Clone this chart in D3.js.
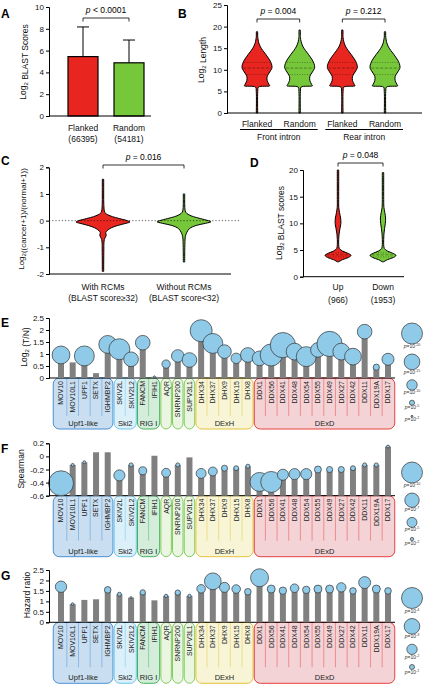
<!DOCTYPE html>
<html>
<head>
<meta charset="utf-8">
<script src="https://cdn.jsdelivr.net/npm/d3@7"></script>
<style>
  body { margin: 0; background: #fff; }
  text { font-family: "Liberation Sans", Arial, sans-serif; }
</style>
</head>
<body>
<div id="chart"></div>
<script>
// ---------- data ----------
// A
const aCats = ["Flanked", "Random"]
const aCounts = ["(66395)", "(54181)"]
const aMeans = [5.45, 4.88]
const aSD = [2.72, 2.09]

// B
const bLabels = ["Flanked", "Random", "Flanked", "Random"]
const bGroups = ["Front intron", "Rear intron"]
const bTips = [18.8, 19.2, 19.2, 18.8]
const bQuart = [8.9, 10.4, 11.7]
const bVals = [0, 5, 6.0, 6.3, 6.6, 7.5, 8.5, 9.5, 10.5, 11.5, 12.5, 13.5, 14.5, 15.5, 16.5, 17.5]
const bWid = [0.04, 0.05, 0.1, 0.85, 0.8, 0.68, 0.68, 0.85, 1.0, 0.95, 0.8, 0.6, 0.38, 0.2, 0.1, 0.05]

// C
const cLabels = ["With RCMs", "Without RCMs"]
const cSub = ["(BLAST score\u226532)", "(BLAST score<32)"]
const cRedVals = [-1.9, -1.2, -0.7, -0.55, -0.45, -0.3, -0.18, -0.1, -0.05, 0, 0.08, 0.15, 0.22, 0.3, 0.6, 1.0, 1.55]
const cRedWid = [0.02, 0.03, 0.05, 0.12, 0.1, 0.25, 0.55, 0.85, 1.0, 0.9, 0.6, 0.35, 0.18, 0.07, 0.03, 0.025, 0.02]
const cGreenVals = [-1.55, -1.0, -0.6, -0.45, -0.3, -0.18, -0.1, -0.04, 0, 0.08, 0.15, 0.22, 0.32, 0.5, 0.8, 1.0]
const cGreenWid = [0.02, 0.03, 0.05, 0.1, 0.2, 0.45, 0.8, 1.0, 0.9, 0.6, 0.35, 0.18, 0.06, 0.03, 0.02, 0.02]

// D
const dLabels = ["Up", "Down"]
const dCounts = ["(966)", "(1953)"]
const dRedVals = [2.8, 3.2, 3.6, 4.0, 4.4, 4.8, 5.3, 6, 7, 8, 9, 10, 11, 12, 13, 15, 17, 20]
const dRedWid = [0.05, 0.35, 0.8, 1.0, 0.75, 0.35, 0.1, 0.05, 0.05, 0.08, 0.15, 0.22, 0.2, 0.12, 0.06, 0.03, 0.02, 0.01]
const dGreenVals = [2.8, 3.2, 3.6, 4.0, 4.4, 4.8, 5.3, 6, 7, 8, 9, 10, 11, 12, 13, 15, 17, 19.5]
const dGreenWid = [0.05, 0.35, 0.8, 1.0, 0.75, 0.35, 0.1, 0.05, 0.05, 0.07, 0.12, 0.18, 0.2, 0.14, 0.07, 0.03, 0.02, 0.01]
const dQuart = [3.7, 4.1, 4.5]

// E, F, G
const genes = ["MOV10", "MOV10L1", "UPF1", "SETX", "IGHMBP2", "SKIV2L", "SKIV2L2", "FANCM", "IFIH1",
  "AQR", "SNRNP200", "SUPV3L1", "DHX34", "DHX37", "DHX9", "DHX15", "DHX8",
  "DDX1", "DDX56", "DDX41", "DDX48", "DDX54", "DDX55", "DDX49", "DDX27", "DDX42", "DDX11", "DDX19A", "DDX17"]
const groupNames = ["Upf1-like", "Ski2", "RIG I", "", "", "", "DExH", "DExD"]
const groupStart = [0, 5, 7, 9, 10, 11, 12, 17]
const groupEnd = [4, 6, 8, 9, 10, 11, 16, 28]

const eLog2TN = [0.96, 0.65, 0.92, 0.2, 1.4, 1.2, 0.78, 1.47, 0.05, 0.58, 0.92, 0.75, 1.97, 1.44, 1.1, 0.82, 0.96,
  0.82, 0.96, 1.37, 1.1, 0.89, 1.17, 1.42, 1.1, 0.89, 1.93, 0.45, 0.78]
const eNegLogP = [17, null, 19, null, 17, 20, 14, 14, 2, 8, 12, 14, 21, 19, 13, 10, 14,
  14, 21, 24, 16, 19, 14, 24, 16, 16, 14, 6, 11.5]
const eLegend = [20, 15, 10, 5, 2]

const fSpearman = [-0.41, -0.13, -0.09, 0.063, 0.063, -0.29, -0.13, -0.22, 0.01, -0.25, -0.13, -0.015, -0.26, -0.23, -0.18, -0.18, -0.15,
  -0.39, -0.39, -0.28, -0.27, -0.27, -0.2, -0.2, -0.2, -0.18, -0.13, -0.13, 0.15]
const fNegLogP = [11.8, 1.8, 1.8, null, null, 5.5, 2.3, 4.1, null, 4.5, 2.3, null, 5, 4.5, 3.2, 2.7, 2.3,
  9.1, 10, 5.5, 5.5, 5.5, 3.6, 3.2, 3.2, 2.7, 2.3, 2.3, 1.8]
const fLegend = [10, 7, 5, 2]

const gHazard = [1.70, 0.87, 1.07, 1.1, 1.55, 1.34, 1.18, 1.43, 1.05, 1.26, 1.42, 1.26, 1.6, 1.96, 1.67, 1.59, 1.46,
  2.13, 1.59, 1.51, 1.63, 1.55, 1.59, 1.59, 1.67, 1.5, 1.9, 1.59, 1.5]
const gNegLogP = [2.2, 0.55, null, null, 1.3, 0.8, 0.45, 1.07, null, 0.7, 1.07, 0.7, 1.67, 3.2, 1.94, 1.67, 1.3,
  3.43, 1.56, 1.45, 1.67, 1.45, 1.56, 1.56, 1.82, 1.3, 2.3, 1.56, 1.3]
const gLegend = [4, 3, 2, 1]

// ---------- styles ----------
const RED = "#e8261f", GREEN = "#77c73b", GRAY = "#808080", BUBBLE = "#8fcae8"
const groupFill = ["#c9dff1", "#dcf0fa", "#d4ecda", "#eaf6e2", "#eaf6e2", "#eaf6e2", "#f7f5d6", "#f4d3d6"]
const groupStroke = ["#4a8fd3", "#6cc5ee", "#45b35a", "#82cc5c", "#82cc5c", "#82cc5c", "#e5c23c", "#e6403f"]

const W = 423, H = 685
const svg = d3.select("#chart").append("svg").attr("width", W).attr("height", H)

function yAxis(scale, x, ticks, fmt) {
  const g = svg.append("g").attr("transform", `translate(${x},0)`)
    .call(d3.axisLeft(scale).tickValues(ticks).tickSize(3).tickPadding(2).tickFormat(fmt || (d => String(d))))
  g.selectAll("text").attr("font-size", 8).attr("fill", "#111")
  g.selectAll("line,path").attr("stroke", "#000")
  return g
}

function hLine(x1, x2, y) {
  svg.append("line").attr("x1", x1).attr("x2", x2).attr("y1", y).attr("y2", y)
    .attr("stroke", "#000").attr("stroke-width", 1)
}

function letter(t, x, y) {
  svg.append("text").attr("x", x).attr("y", y).text(t)
    .attr("font-size", 12).attr("font-weight", "bold")
}

// parts: plain strings, or [string] for a subscript
function yTitle(parts, x, y, size) {
  const t = svg.append("text").attr("transform", `translate(${x},${y}) rotate(-90)`)
    .attr("text-anchor", "middle").attr("font-size", size || 8.5).attr("fill", "#111")
    .attr("xml:space", "preserve")
  parts.forEach(p => {
    if (Array.isArray(p)) {
      t.append("tspan").attr("dy", 2).attr("font-size", 6).text(p[0])
      t.append("tspan").attr("dy", -2).text("")
    } else t.append("tspan").text(p)
  })
}

function bracket(x1, x2, y, label) {
  svg.append("path").attr("d", `M${x1},${y + 3.5}V${y}H${x2}V${y + 3.5}`)
    .attr("fill", "none").attr("stroke", "#000").attr("stroke-width", 0.8)
  const t = svg.append("text").attr("x", (x1 + x2) / 2).attr("y", y - 5)
    .attr("text-anchor", "middle").attr("font-size", 8.5).attr("xml:space", "preserve")
  t.append("tspan").attr("font-style", "italic").text("p")
  t.append("tspan").text(label)
}

function label(x, y, s, size) {
  svg.append("text").attr("x", x).attr("y", y).attr("text-anchor", "middle")
    .attr("font-size", size || 8.5).attr("fill", "#111").text(s)
}

function violin(vals, wid, cx, half, y, color) {
  const pts = vals.map((v, i) => ({ v: v, w: Math.max(0.7, wid[i] * half) }))
  const area = d3.area().curve(d3.curveCatmullRom.alpha(0.5))
    .y(d => y(d.v)).x0(d => cx - d.w).x1(d => cx + d.w)
  svg.append("path").attr("d", area(pts)).attr("fill", color)
    .attr("stroke", "#000").attr("stroke-width", 1)
}

function quartiles(vals, wid, qs, cx, half, y) {
  const wAt = d3.scaleLinear().domain(vals).range(wid)
  qs.forEach((q, i) => {
    const w = wAt(q) * half - 1
    svg.append("line").attr("x1", cx - w).attr("x2", cx + w).attr("y1", y(q)).attr("y2", y(q))
      .attr("stroke", "#000").attr("stroke-opacity", 0.45).attr("stroke-width", 0.8)
      .attr("stroke-dasharray", i === 1 ? "3,1.5" : "1,1.5")
  })
}

// ---------- A ----------
letter("A", 1, 18)
const yA = d3.scaleLinear().domain([0, 10]).range([116, 7])
const xA = d3.scalePoint().domain(aCats).range([83, 129])
const barW = 30
aCats.forEach((c, i) => {
  const cx = xA(c)
  svg.append("line").attr("x1", cx).attr("x2", cx).attr("y1", yA(aMeans[i])).attr("y2", yA(aMeans[i] + aSD[i]))
    .attr("stroke", "#000").attr("stroke-width", 1)
  svg.append("line").attr("x1", cx - 6).attr("x2", cx + 6).attr("y1", yA(aMeans[i] + aSD[i])).attr("y2", yA(aMeans[i] + aSD[i]))
    .attr("stroke", "#000").attr("stroke-width", 1)
  svg.append("rect").attr("x", cx - barW / 2).attr("y", yA(aMeans[i])).attr("width", barW)
    .attr("height", yA(0) - yA(aMeans[i])).attr("fill", i === 0 ? RED : GREEN)
    .attr("stroke", "#000").attr("stroke-width", 1.2)
  label(cx, 131, c)
  label(cx, 142, aCounts[i])
})
yAxis(yA, 49, [0, 2, 4, 6, 8, 10])
hLine(49, 151, yA(0))
yTitle(["Log", ["2"], " BLAST Scores"], 26, 62)
bracket(xA(aCats[0]), xA(aCats[1]), 18, " < 0.0001")

// ---------- B ----------
letter("B", 178, 18)
const yB = d3.scaleLinear().domain([0, 25]).range([113, 5])
const xB = d3.scalePoint().domain(d3.range(4)).range([257, 385])
bLabels.forEach((c, i) => {
  const vals = bVals.concat([bTips[i]])
  const wid = bWid.concat([0.02])
  violin(vals, wid, xB(i), 15, yB, i % 2 === 0 ? RED : GREEN)
  quartiles(vals, wid, bQuart, xB(i), 15, yB)
  label(xB(i), 127, c)
})
bGroups.forEach((gname, j) => {
  const x1 = xB(j * 2) - 17, x2 = xB(j * 2 + 1) + 18
  hLine(x1, x2, 129.5)
  label((x1 + x2) / 2, 140, gname)
  bracket(xB(j * 2), xB(j * 2 + 1), 19, j === 0 ? " = 0.004" : " = 0.212")
})
yAxis(yB, 227, [0, 5, 10, 15, 20, 25])
hLine(227, 422, yB(0))
yTitle(["Log", ["2"], " Length"], 204, 60)

// ---------- C ----------
letter("C", 1, 165)
const yC = d3.scaleLinear().domain([-2, 2]).range([274, 167.3])
const xC = d3.scalePoint().domain(cLabels).range([103, 184])
violin(cRedVals, cRedWid, xC(cLabels[0]), 27, yC, RED)
violin(cGreenVals, cGreenWid, xC(cLabels[1]), 27, yC, GREEN)
svg.append("line").attr("x1", 49).attr("x2", 240).attr("y1", yC(0)).attr("y2", yC(0))
  .attr("stroke", "#000").attr("stroke-opacity", 0.7).attr("stroke-width", 0.9).attr("stroke-dasharray", "1.2,2")
cLabels.forEach((c, i) => {
  label(xC(c), 290, c)
  label(xC(c), 300.5, cSub[i])
})
yAxis(yC, 49, [-2, -1, 0, 1, 2])
hLine(49, 231, yC(-2))
yTitle(["Log", ["2"], "((cancer+1)/(normal+1))"], 24, 219, 8)
bracket(xC(cLabels[0]), xC(cLabels[1]), 165, " = 0.016")

// ---------- D ----------
letter("D", 250, 167)
const yD = d3.scaleLinear().domain([0, 20]).range([276.7, 170])
const xD = d3.scalePoint().domain(dLabels).range([338, 383])
violin(dRedVals, dRedWid, xD(dLabels[0]), 13, yD, RED)
violin(dGreenVals, dGreenWid, xD(dLabels[1]), 13, yD, GREEN)
quartiles(dRedVals, dRedWid, dQuart, xD(dLabels[0]), 13, yD)
quartiles(dGreenVals, dGreenWid, dQuart, xD(dLabels[1]), 13, yD)
dLabels.forEach((c, i) => {
  label(xD(c), 290, c)
  label(xD(c), 303, dCounts[i])
})
yAxis(yD, 303, [0, 5, 10, 15, 20])
hLine(303, 404, yD(0))
yTitle(["Log", ["2"], " BLAST scores"], 282, 223)
bracket(xD(dLabels[0]), xD(dLabels[1]), 163, " = 0.048")

// ---------- E, F, G ----------
const xG = d3.scalePoint().domain(genes).range([61, 388])
const step = xG.step()

function geneChart(cfg) {
  const y = cfg.y, base = cfg.base, top = y(base)
  // group boxes
  groupStart.forEach((s, i) => {
    let x1 = xG(genes[s]) - step / 2 + 0.6
    let x2 = xG(genes[groupEnd[i]]) + step / 2 - 0.6
    if (i === 0) x1 -= 2.5
    if (i === groupStart.length - 1) x2 += 1.5
    svg.append("rect").attr("x", x1).attr("y", top).attr("width", x2 - x1).attr("height", cfg.boxH)
      .attr("rx", 6).attr("fill", groupFill[i]).attr("stroke", groupStroke[i]).attr("stroke-width", 1)
    for (let k = s; k < groupEnd[i]; k++) {
      const xs = xG(genes[k]) + step / 2
      svg.append("line").attr("x1", xs).attr("x2", xs).attr("y1", top).attr("y2", top + cfg.sepH)
        .attr("stroke", groupStroke[i]).attr("stroke-opacity", 0.6).attr("stroke-width", 0.8)
    }
    if (groupNames[i]) {
      svg.append("text").attr("x", (x1 + x2) / 2).attr("y", top + cfg.labelDy)
        .attr("text-anchor", "middle").attr("font-size", 7.5).attr("fill", "#222").text(groupNames[i])
    }
  })
  genes.forEach(gn => {
    svg.append("text").attr("transform", `translate(${xG(gn)},${top + 3}) rotate(-90)`)
      .attr("text-anchor", "end").attr("dy", "0.35em").attr("font-size", 7).attr("fill", "#222").text(gn)
  })
  hLine(49, 395, top)
  // bars
  cfg.values.forEach((v, i) => {
    svg.append("rect").attr("x", xG(genes[i]) - 3).attr("width", 6)
      .attr("y", Math.min(y(v), top)).attr("height", Math.abs(top - y(v))).attr("fill", GRAY)
  })
  // bubbles
  cfg.values.forEach((v, i) => {
    const p = cfg.pexp[i]
    if (p == null) return
    svg.append("circle").attr("cx", xG(genes[i])).attr("cy", y(v)).attr("r", Math.max(0.8, cfg.r(p)))
      .attr("fill", BUBBLE).attr("stroke", "#333").attr("stroke-width", 0.7)
  })
  yAxis(y, 49, cfg.ticks)
  yTitle(cfg.title, cfg.titleX, cfg.titleY)
  letter(cfg.letter, 1, cfg.letterY)
  // size legend
  let ly = cfg.legendTop
  cfg.legend.forEach(e => {
    const r = cfg.r(e)
    svg.append("circle").attr("cx", 412).attr("cy", ly + r).attr("r", r)
      .attr("fill", BUBBLE).attr("stroke", "#333").attr("stroke-width", 0.7)
    const lb = ly + 2 * r + 4
    const t = svg.append("text").attr("x", 412).attr("y", lb).attr("text-anchor", "middle")
      .attr("font-size", 5).attr("fill", "#333")
    t.append("tspan").attr("font-style", "italic").text("p")
    t.append("tspan").text("=10")
    t.append("tspan").attr("dy", -2).attr("font-size", 3.6).text("-" + e)
    ly = lb + 6
  })
}

geneChart({
  y: d3.scaleLinear().domain([0, 2.5]).range([378, 318]), base: 0,
  values: eLog2TN, pexp: eNegLogP, ticks: [0, 0.5, 1, 1.5, 2, 2.5],
  r: d3.scaleLinear().domain([2, 20]).range([1, 10.5]),
  boxH: 51, sepH: 38, labelDy: 47.5,
  title: ["Log", ["2"], " (T/N)"], titleX: 27, titleY: 347,
  letter: "E", letterY: 327, legend: eLegend, legendTop: 323
})

geneChart({
  y: d3.scaleLinear().domain([-0.6, 0.2]).range([495.7, 443.3]), base: -0.6,
  values: fSpearman, pexp: fNegLogP, ticks: [-0.6, -0.4, -0.2, 0, 0.2],
  r: d3.scaleLinear().domain([2, 10]).range([1.7, 10.5]),
  boxH: 61, sepH: 45, labelDy: 58,
  title: ["Spearman"], titleX: 24, titleY: 469,
  letter: "F", letterY: 453, legend: fLegend, legendTop: 462
})

geneChart({
  y: d3.scaleLinear().domain([0, 2.5]).range([622.3, 570]), base: 0,
  values: gHazard, pexp: gNegLogP, ticks: [0, 0.5, 1, 1.5, 2, 2.5],
  r: d3.scaleLinear().domain([1, 4]).range([2.5, 10.5]),
  boxH: 61, sepH: 45, labelDy: 58,
  title: ["Hazard ratio"], titleX: 30, titleY: 595,
  letter: "G", letterY: 580, legend: gLegend, legendTop: 587.5
})
</script>
</body>
</html>
